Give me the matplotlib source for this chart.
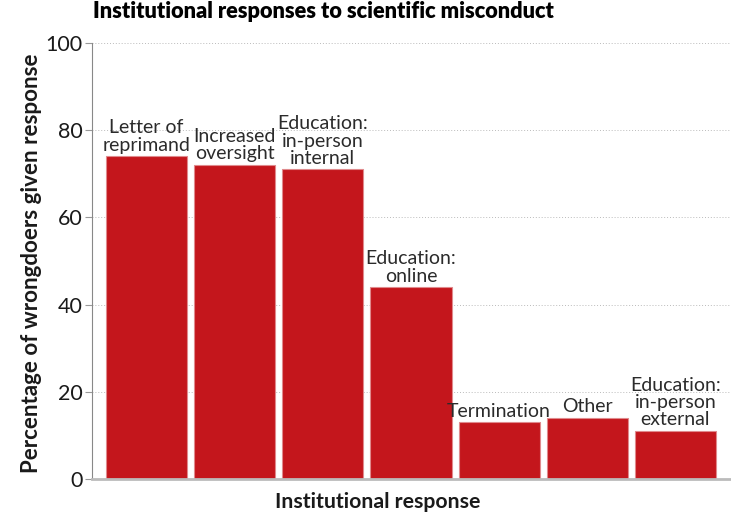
import numpy as np
import matplotlib.pyplot as plt

responses = ["Letter of\nreprimand", "Increased\noversight", "Education:\nin-person\ninternal",
             "Education:\nonline", "Termination", "Other", "Education:\nin-person\nexternal"]
percent = [74, 72, 71, 44, 13, 14, 11]

plt.rcParams['font.family'] = ['Lato', 'DejaVu Sans']

fig = plt.figure(figsize=(7.31, 5.28), dpi=100)
ax = fig.add_axes([92 / 731, 49 / 528, 638 / 731, 436 / 528])

x = np.arange(len(responses))
ax.bar(x, percent, width=0.92, color='#c4161c', edgecolor='#e08a8d', linewidth=0.8, zorder=2)

for xi, val, lab in zip(x, percent, responses):
    ax.text(xi, val + 0.6, lab, ha='center', va='bottom', fontsize=14,
            color='#2b2b2b', linespacing=1.02, zorder=3)

ax.set_xlim(-0.62, 6.62)
ax.set_ylim(0, 100)
ax.set_yticks([0, 20, 40, 60, 80, 100])
ax.set_xticks([])
ax.yaxis.grid(True, linestyle=(0, (1, 2)), color='#bbbbbb', linewidth=0.7, zorder=0)
ax.tick_params(axis='y', labelsize=15.5, length=5, pad=2, color='#999999', labelcolor='#1a1a1a')

for s in ['top', 'right']:
    ax.spines[s].set_visible(False)
ax.spines['left'].set_color('#888888')
ax.spines['bottom'].set_color('#bbbbbb')
ax.spines['bottom'].set_linewidth(2)

ax.set_ylabel("Percentage of wrongdoers given response", fontsize=16.1, fontweight='bold',
              color='#1a1a1a')
ax.yaxis.set_label_coords(-(92 - 42) / 638, 0.495)
ax.set_xlabel("Institutional response", fontsize=15.3, fontweight='bold', color='#1a1a1a')
ax.xaxis.set_label_coords((378 - 92) / 638, -(492 - 479) / 436)

fig.text(93 / 731, 1 - 12 / 528, "Institutional responses to scientific misconduct",
         fontsize=15.7, fontweight='heavy', color='black', va='center', ha='left')

fig.savefig('out.png', dpi=100)
